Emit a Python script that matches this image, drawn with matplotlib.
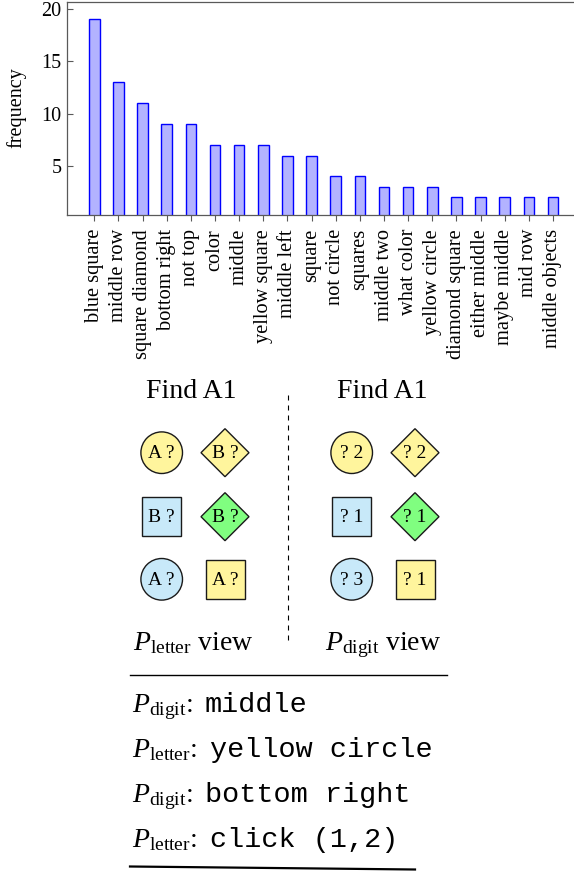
import matplotlib
matplotlib.use("Agg")
import matplotlib.pyplot as plt
from matplotlib import patches
from matplotlib.lines import Line2D
import numpy as np

plt.rcParams['font.family'] = ['Liberation Serif', 'DejaVu Serif']
plt.rcParams['mathtext.fontset'] = 'custom'
plt.rcParams['mathtext.rm'] = 'Liberation Serif'
plt.rcParams['mathtext.it'] = 'Liberation Serif:italic'

# ---------------- data ----------------
phrases = ['blue square', 'middle row', 'square diamond', 'bottom right', 'not top',
           'color', 'middle', 'yellow square', 'middle left', 'square',
           'not circle', 'squares', 'middle two', 'what color', 'yellow circle',
           'diamond square', 'either middle', 'maybe middle', 'mid row', 'middle objects']
counts = [19, 13, 11, 9, 9, 7, 7, 7, 6, 6, 4, 4, 3, 3, 3, 2, 2, 2, 2, 2]
yticks = [5, 10, 15, 20]

# board: 3 rows x 2 cols, same shapes/colours in both views
shape_kinds = ['circle', 'diamond', 'square', 'diamond', 'circle', 'square']
shape_colors = ['yellow', 'yellow', 'blue', 'green', 'blue', 'yellow']
letter_view = ['A ?', 'B ?', 'B ?', 'B ?', 'A ?', 'A ?']
digit_view = ['? 2', '? 2', '? 1', '? 1', '? 3', '? 1']

speakers = [r'$P_{\mathrm{digit}}$:', r'$P_{\mathrm{letter}}$:',
            r'$P_{\mathrm{digit}}$:', r'$P_{\mathrm{letter}}$:']
utterances = ['middle', 'yellow circle', 'bottom right', 'click (1,2)']

fill = {'yellow': '#fff59d', 'blue': '#c8e9f9', 'green': '#80fe80'}

W, H = 574, 871
fig = plt.figure(figsize=(W / 100, H / 100), dpi=100)

# ---------------- bar chart ----------------
ax = fig.add_axes([67.3 / W, 1 - 215 / H, (W - 0.5 - 67.3) / W, 213.3 / H])
x = np.arange(len(phrases))
ax.bar(x, counts, width=0.44, color='#b3b3ff', edgecolor='blue', linewidth=1.0)
ax.set_xlim(-1.12, 19.85)
ax.set_ylim(0.32, 20.7)
ax.set_yticks(yticks)
ax.set_xticks(x)
ax.set_xticklabels(phrases, rotation=90, fontsize=14.7)
ax.tick_params(axis='y', direction='in', length=4, labelsize=14.5, pad=4,
               color='0.35')
ax.tick_params(axis='x', direction='out', length=4, pad=6, color='0.35')
for s in ['left', 'top', 'bottom']:
    ax.spines[s].set_color('0.35')
    ax.spines[s].set_linewidth(0.9)
ax.spines['right'].set_visible(False)
fig.text(16 / W, 1 - 108 / H, 'frequency', rotation=90, ha='center',
         va='center', fontsize=14.5)

# ---------------- illustration (pixel coords) ----------------
ov = fig.add_axes([0, 0, 1, 1])
ov.set_xlim(0, W)
ov.set_ylim(H, 0)
ov.axis('off')

col_x = [161.7, 225.0]
row_y = [452.7, 516.7, 579.3]
panel_dx = [0, 190]


def draw_shape(kind, cx, cy, fc):
    if kind == 'circle':
        p = patches.Circle((cx, cy), 20.8)
    elif kind == 'square':
        p = patches.Rectangle((cx - 19.5, cy - 19.3), 39, 38.6)
    else:
        d = 24
        p = patches.Polygon([(cx, cy - d), (cx + d, cy), (cx, cy + d), (cx - d, cy)])
    p.set_facecolor(fc)
    p.set_edgecolor('0.1')
    p.set_linewidth(1.0)
    ov.add_patch(p)


for dx, labels in zip(panel_dx, [letter_view, digit_view]):
    for i, (kind, c, lab) in enumerate(zip(shape_kinds, shape_colors, labels)):
        cx = col_x[i % 2] + dx
        cy = row_y[i // 2]
        draw_shape(kind, cx, cy, fill[c])
        ov.text(cx, cy + 1, lab, ha='center', va='center', fontsize=14)

ov.text(191.5, 398, 'Find A1', ha='center', va='baseline', fontsize=20)
ov.text(382.5, 398, 'Find A1', ha='center', va='baseline', fontsize=20)
ov.text(193, 650, r'$P_{\mathrm{letter}}$ view', ha='center', va='baseline', fontsize=20)
ov.text(383.5, 650, r'$P_{\mathrm{digit}}$ view', ha='center', va='baseline', fontsize=20)

ov.add_line(Line2D([288, 288], [395, 643], color='black', linewidth=0.8,
                   linestyle=(0, (4.5, 4.5))))

# ---------------- dialogue ----------------
ov.add_line(Line2D([130, 447], [675, 675], color='black', linewidth=1.0))
for k, (who, say) in enumerate(zip(speakers, utterances)):
    yb = 712 + 45 * k
    ov.text(132, yb, who, ha='left', va='baseline', fontsize=20)
    xm = 205 if 'digit' in who else 210
    ov.text(xm, yb, say, ha='left', va='baseline', fontsize=20.5,
            family='Liberation Mono')
ov.add_line(Line2D([130, 415], [866.5, 869.5], color='black', linewidth=1.6))

fig.savefig('out.png', dpi=100)
